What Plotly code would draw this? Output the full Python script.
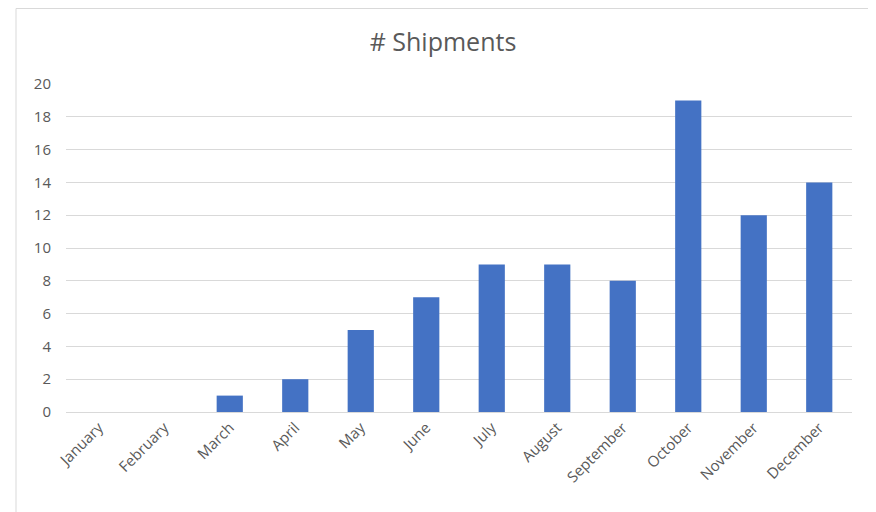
import plotly.graph_objects as go

months = ["January", "February", "March", "April", "May", "June", "July",
          "August", "September", "October", "November", "December"]
shipments = [0, 0, 1, 2, 5, 7, 9, 9, 8, 19, 12, 14]
y_ticks = [0, 2, 4, 6, 8, 10, 12, 14, 16, 18, 20]

fig = go.Figure()
fig.add_trace(go.Bar(x=months, y=shipments, marker=dict(color="#4472C4", line=dict(width=0)),
                     width=0.4))

OFF = 8  # page offset of the rendered figure
L, R, T, B = 66 - OFF, 24 + OFF, 84 - OFF, 100 + OFF
W, H = 876, 512
pw, ph = W - L - R, H - T - B

def px_x(p):
    return (p - OFF - L) / pw

def px_y(p):
    return (H - B - (p - OFF)) / ph

fig.add_shape(type="rect", xref="paper", yref="paper",
              x0=px_x(16), x1=px_x(870), y0=px_y(530), y1=px_y(8.5),
              line=dict(color="#d9d9d9", width=1), fillcolor="rgba(0,0,0,0)", layer="below")

fig.update_layout(
    width=W, height=H,
    margin=dict(l=L, r=R, t=T, b=B),
    paper_bgcolor="white", plot_bgcolor="white",
    title=dict(text="# Shipments", x=px_x(443), xref="paper", xanchor="center",
               y=(H - (42 - OFF)) / H, yanchor="middle",
               font=dict(family="Open Sans", size=25, color="#595959")),
    font=dict(family="Open Sans", color="#595959"),
    showlegend=False,
    bargap=0.6,
)
fig.update_xaxes(tickangle=-45, tickfont=dict(size=15, color="#595959"),
                 showgrid=False, showline=True, linecolor="#d9d9d9", linewidth=1,
                 ticks="", zeroline=False)
fig.update_yaxes(range=[0, 20], tickvals=y_ticks, tickfont=dict(size=15, color="#595959"),
                 showgrid=True, gridcolor="#d9d9d9", gridwidth=1, zeroline=False,
                 showline=False, ticks="", ticklabelstandoff=14)

fig.write_html("out.html")
